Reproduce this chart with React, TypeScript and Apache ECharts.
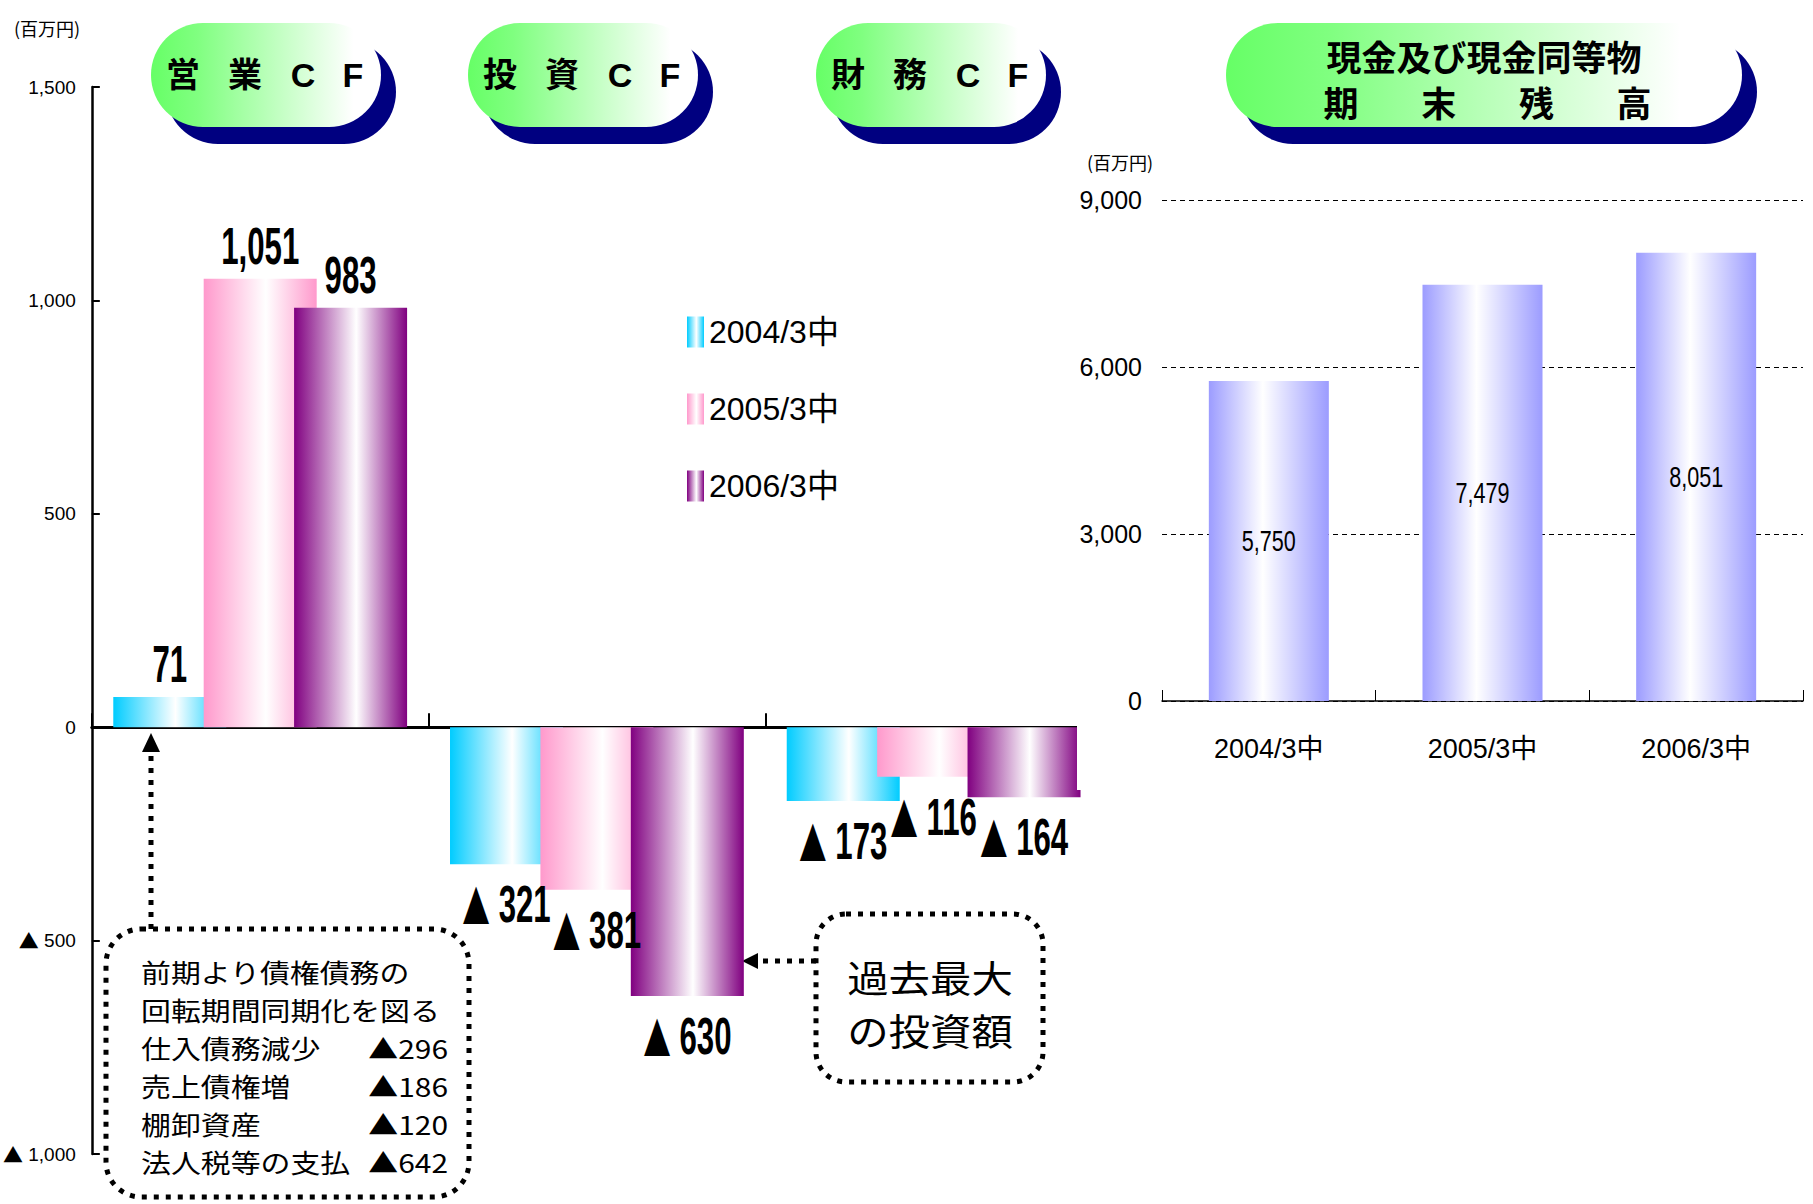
import React, { useEffect, useRef } from 'react';
import * as echarts from 'echarts';

// ---------- data ----------
const cfCategories = ['営業CF', '投資CF', '財務CF'];
const seriesNames = ['2004/3中', '2005/3中', '2006/3中'];
const cf2004 = [71, -321, -173];
const cf2005 = [1051, -381, -116];
const cf2006 = [983, -630, -164];
const cfMin = -1000;
const cfMax = 1500;
const cfInterval = 500;

const cashCategories = ['2004/3中', '2005/3中', '2006/3中'];
const cashBalance = [5750, 7479, 8051];
const cashMin = 0;
const cashMax = 9000;
const cashInterval = 3000;

const titleChars = [
  ['営', '業', 'C', 'F'],
  ['投', '資', 'C', 'F'],
  ['財', '務', 'C', 'F'],
];
const cashTitleLine1 = '現金及び現金同等物';
const cashTitleLine2 = ['期', '末', '残', '高'];
const unitLabel = '(百万円)';
const noteLeft = ['前期より債権債務の', '回転期間同期化を図る', '仕入債務減少', '売上債権増', '棚卸資産', '法人税等の支払'];
const noteRight = ['', '', '▲296', '▲186', '▲120', '▲642'];
const note2Lines = ['過去最大', 'の投資額'];

// ---------- styles ----------
const LATIN = "'Liberation Sans', 'Noto Sans CJK JP', sans-serif";
const CJK = "'Noto Sans CJK JP', sans-serif";
const cfEdgeColors = ['#00ccff', '#ff99cc', '#800080'];

const fmt = (v: number) => Math.abs(v).toLocaleString('en-US');
const cfAxisLabel = (v: number) => (v < 0 ? '{t|▲} ' + fmt(v) : fmt(v));

function cyl(edge: string, mid = 0.55) {
  return new echarts.graphic.LinearGradient(0, 0, 1, 0, [
    { offset: 0, color: edge },
    { offset: mid, color: '#ffffff' },
    { offset: 1, color: edge },
  ]);
}

function pillGrad() {
  return new echarts.graphic.LinearGradient(0, 0, 1, 0, [
    { offset: 0, color: '#66ff66' },
    { offset: 0.2, color: '#80ff80' },
    { offset: 0.88, color: '#ffffff' },
    { offset: 1, color: '#ffffff' },
  ]);
}

function pill(x: number, w: number, children: any[]) {
  const y = 23;
  const h = 104;
  return {
    type: 'group',
    children: [
      { type: 'rect', shape: { x: x + 15, y: y + 17, width: w, height: h, r: 52 }, style: { fill: '#000080' } },
      { type: 'rect', shape: { x, y, width: w, height: h, r: 52 }, style: { fill: pillGrad() } },
      ...children,
    ],
  };
}

function txt(x: number, y: number, text: string, fontSize: number, fontFamily: string, fontWeight = 'normal', align = 'center') {
  return {
    type: 'text',
    x,
    y,
    style: { text, fontSize, fontFamily, fontWeight, fill: '#000', align, verticalAlign: 'middle' },
  };
}

export default function App() {
  const ref = useRef<HTMLDivElement>(null);

  useEffect(() => {
    if (!ref.current) return;
    const chart = echarts.init(ref.current, undefined, { renderer: 'svg' });

    const cfData = [cf2004, cf2005, cf2006];

    const option: any = {
      animation: false,
      backgroundColor: '#ffffff',
      grid: [
        { left: 91, top: 87, width: 1011, height: 1067 },
        { left: 1162, top: 200, width: 641, height: 501 },
      ],
      legend: {
        data: seriesNames,
        orient: 'vertical',
        left: 682,
        top: 305,
        itemWidth: 17,
        itemHeight: 31,
        itemGap: 33,
        icon: 'rect',
        selectedMode: false,
        textStyle: { fontFamily: LATIN, fontSize: 32, color: '#000', lineHeight: 44 },
      },
      xAxis: [
        {
          type: 'category',
          gridIndex: 0,
          data: cfCategories,
          axisLine: { onZero: true, lineStyle: { color: '#000', width: 3 } },
          axisTick: { show: true, inside: true, length: 14, lineStyle: { color: '#000', width: 2 } },
          axisLabel: { show: false },
        },
        {
          type: 'category',
          gridIndex: 1,
          data: cashCategories,
          axisLine: { lineStyle: { color: '#000', width: 1.5 } },
          axisTick: { show: true, inside: true, length: 11, lineStyle: { color: '#000', width: 1 } },
          axisLabel: { fontFamily: LATIN, fontSize: 27, color: '#000', margin: 34 },
        },
      ],
      yAxis: [
        {
          type: 'value',
          gridIndex: 0,
          min: cfMin,
          max: cfMax,
          interval: cfInterval,
          axisLine: { show: true, lineStyle: { color: '#000', width: 2.5 } },
          axisTick: { show: true, inside: true, length: 8, lineStyle: { color: '#000', width: 2 } },
          splitLine: { show: false },
          axisLabel: {
            formatter: (v: number) => cfAxisLabel(v),
            fontFamily: LATIN,
            fontSize: 19,
            color: '#000',
            margin: 16,
            rich: { t: { fontFamily: CJK, fontSize: 20, color: '#000' } },
          },
        },
        {
          type: 'value',
          gridIndex: 1,
          min: cashMin,
          max: cashMax,
          interval: cashInterval,
          axisLine: { show: false },
          axisTick: { show: false },
          splitLine: { show: true, lineStyle: { color: '#000', type: [5, 4], width: 1 } },
          axisLabel: { formatter: (v: number) => fmt(v), fontFamily: LATIN, fontSize: 25, color: '#000', margin: 20 },
        },
      ],
      series: [
        ...cfData.map((vals, i) => ({
          type: 'bar',
          name: seriesNames[i],
          xAxisIndex: 0,
          yAxisIndex: 0,
          barWidth: 113,
          barGap: '-20%',
          z: 2 + i,
          itemStyle: { color: cyl(cfEdgeColors[i]) },
          data: vals,
        })),
        {
          type: 'bar',
          name: '期末残高',
          xAxisIndex: 1,
          yAxisIndex: 1,
          barWidth: 120,
          itemStyle: { color: cyl('#9c9cff', 0.45) },
          data: cashBalance,
        },
      ],
    };

    chart.setOption(option);

    // ----- value labels (condensed look), placed from the library's own bar layouts -----
    const model: any = (chart as any).getModel ? (chart as any).getModel() : null;
    const barRect = (seriesIndex: number, idx: number, v: number) => {
      if (model) {
        const l = model.getSeriesByIndex(seriesIndex).getData().getItemLayout(idx);
        if (l) {
          return {
            cx: l.x + l.width / 2,
            top: Math.min(l.y, l.y + l.height),
            bottom: Math.max(l.y, l.y + l.height),
          };
        }
      }
      const p = chart.convertToPixel({ seriesIndex }, [idx, v]) as number[];
      const b = chart.convertToPixel({ seriesIndex }, [idx, 0]) as number[];
      return { cx: p[0], top: Math.min(p[1], b[1]), bottom: Math.max(p[1], b[1]) };
    };

    const labelEls: any[] = [];
    cfData.forEach((vals, i) => {
      vals.forEach((v, j) => {
        const r = barRect(i, j, v);
        const neg = v < 0;
        labelEls.push({
          type: 'text',
          x: r.cx,
          y: neg ? r.bottom + 14 : r.top - 7,
          scaleX: 0.6,
          z: 50,
          style: {
            text: neg ? '{tri|▲} ' + fmt(v) : fmt(v),
            fontFamily: LATIN,
            fontWeight: 'bold',
            fontSize: 52,
            fill: '#000',
            align: 'center',
            verticalAlign: neg ? 'top' : 'bottom',
            rich: { tri: { fontFamily: CJK, fontSize: 46, fontWeight: 'bold', fill: '#000' } },
          },
        });
      });
    });
    cashBalance.forEach((v, j) => {
      const r = barRect(3, j, v);
      labelEls.push({
        type: 'text',
        x: r.cx,
        y: (r.top + r.bottom) / 2,
        scaleX: 0.72,
        z: 50,
        style: { text: fmt(v), fontFamily: LATIN, fontSize: 30, fill: '#000', align: 'center', verticalAlign: 'middle' },
      });
    });

    const titleX = [151, 468, 816];
    const charOffsets = [32, 94, 152, 202];
    const titles = titleChars.map((chars, i) =>
      pill(
        titleX[i],
        230,
        chars.map((c, j) => txt(titleX[i] + charOffsets[j], 75, c, 34, LATIN, 'bold'))
      )
    );
    const cashTitle = pill(1226, 516, [
      txt(1484, 55, cashTitleLine1, 35, CJK, 'bold'),
      ...cashTitleLine2.map((c, j) => txt(1341 + j * 97.7, 101, c, 35, CJK, 'bold')),
    ]);

    // note box text: one multi-line rich text (wide-set, like the original), amounts right-aligned
    const noteScale = 1.15;
    const noteText = noteLeft
      .map((t, i) => (noteRight[i] ? `{l|${t}}{r|${noteRight[i]}}` : `{p|${t}}`))
      .join('\n');
    const noteEl = {
      type: 'text',
      x: 141,
      y: 953,
      scaleX: noteScale,
      style: {
        text: noteText,
        fontFamily: CJK,
        fontSize: 26,
        lineHeight: 38,
        fill: '#000',
        align: 'left',
        verticalAlign: 'top',
        rich: {
          p: { fontFamily: CJK, fontSize: 26, lineHeight: 38 },
          l: { fontFamily: CJK, fontSize: 26, lineHeight: 38, width: 224 / noteScale },
          r: { fontFamily: CJK, fontSize: 26, lineHeight: 38, width: 83 / noteScale, align: 'right' },
        },
      },
    };

    const dotted = { stroke: '#000', lineWidth: 5, lineDash: [5, 7], fill: 'none' };

    chart.setOption({
      graphic: [
        ...labelEls,
        // clip of the cash-flow chart's right edge, as in the original
        { type: 'rect', z: 100, shape: { x: 1077, y: 690, width: 33, height: 100 }, style: { fill: '#ffffff' } },
        txt(14, 28, unitLabel, 18, CJK, 'normal', 'left'),
        txt(1087, 162, unitLabel, 18, CJK, 'normal', 'left'),
        ...titles,
        cashTitle,
        // note box 1
        { type: 'rect', shape: { x: 106, y: 929, width: 363, height: 268, r: 35 }, style: dotted },
        { type: 'line', shape: { x1: 151, y1: 929, x2: 151, y2: 752 }, style: dotted },
        { type: 'polygon', shape: { points: [[151, 733], [142, 752], [160, 752]] }, style: { fill: '#000' } },
        noteEl,
        // note box 2
        { type: 'rect', shape: { x: 816, y: 914, width: 227, height: 168, r: 30 }, style: dotted },
        { type: 'line', shape: { x1: 816, y1: 961, x2: 758, y2: 961 }, style: dotted },
        { type: 'polygon', shape: { points: [[742, 961], [758, 953], [758, 969]] }, style: { fill: '#000' } },
        {
          type: 'text',
          x: 930,
          y: 1003,
          scaleX: 1.12,
          style: {
            text: note2Lines.join('\n'),
            fontFamily: CJK,
            fontSize: 37,
            lineHeight: 53,
            fill: '#000',
            align: 'center',
            verticalAlign: 'middle',
          },
        },
      ],
    });

    return () => chart.dispose();
  }, []);

  return <div ref={ref} style={{ position: 'absolute', left: 0, top: 0, width: 1813, height: 1204 }} />;
}
